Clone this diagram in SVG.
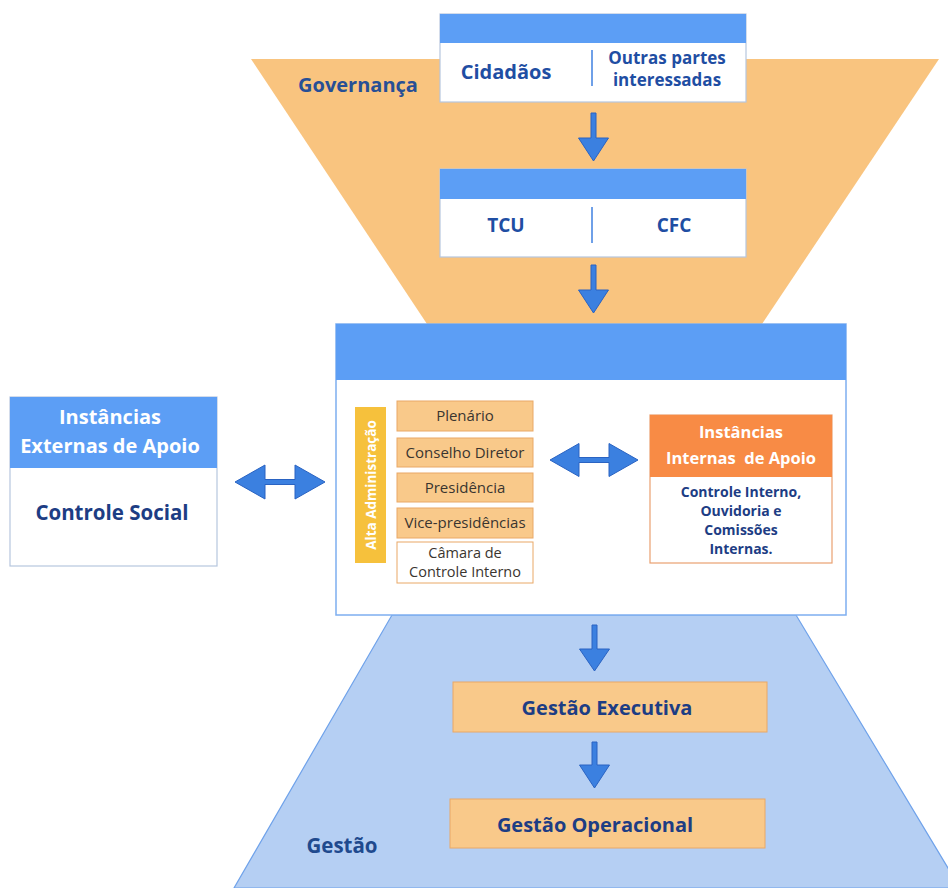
<svg xmlns="http://www.w3.org/2000/svg" width="948" height="888" viewBox="0 0 948 888">
<style>
.t{font-family:"Open Sans","Noto Sans","DejaVu Sans",sans-serif;}
.b{font-weight:700;}
.navy{fill:#1d3d84;}
.blue{fill:#1f4ea3;}
.white{fill:#ffffff;}
.item{fill:#f9c98a;stroke:#e9a866;stroke-width:1;}
.itxt{font-family:"Open Sans","Noto Sans","DejaVu Sans",sans-serif;font-size:15px;fill:#3a3530;text-anchor:middle;}
.card{fill:#ffffff;stroke:#b6c6de;stroke-width:1.2;}
.hdr{fill:#5c9ef5;}
.arrow{fill:#3b80e0;stroke:#2a63c2;stroke-width:1;}
.div{stroke:#6fa0e8;stroke-width:2;}
</style>
<rect x="0" y="0" width="948" height="888" fill="#ffffff"/>

<!-- background trapezoids -->
<g id="governanca-zone">
<polygon points="251,59 939,59 762,324 427,324" fill="#f9c47f"/>
<text class="t b" x="358" y="92" font-size="20" text-anchor="middle" fill="#274f96">Governança</text>
</g>
<g id="gestao-zone">
<polygon points="392,615 796,615 960,888 234,888" fill="#b5cff3" stroke="#6fa2ea" stroke-width="1.2"/>
<text class="t b" x="342" y="853" font-size="20.5" text-anchor="middle" fill="#1f4a8e">Gestão</text>
</g>

<!-- top box -->
<g id="node-cidadaos">
<rect class="card" x="440" y="14" width="306" height="88"/>
<rect class="hdr" x="440" y="14" width="306" height="29"/>
<line class="div" x1="592" y1="50" x2="592" y2="86"/>
<text class="t b blue" x="506" y="79" font-size="20" text-anchor="middle">Cidadãos</text>
<text class="t b blue" x="667" y="64" font-size="17" text-anchor="middle">Outras partes</text>
<text class="t b blue" x="667" y="86" font-size="17" text-anchor="middle">interessadas</text>
</g>

<g id="node-tcu-cfc">
<rect class="card" x="440" y="169" width="306" height="88"/>
<rect class="hdr" x="440" y="169" width="306" height="30"/>
<line class="div" x1="592" y1="207" x2="592" y2="243"/>
<text class="t b blue" x="506" y="232" font-size="19" text-anchor="middle">TCU</text>
<text class="t b blue" x="674" y="232" font-size="19" text-anchor="middle">CFC</text>
</g>

<!-- middle box -->
<g id="node-central">
<rect x="336" y="324" width="510" height="291" fill="#ffffff" stroke="#7eaef0" stroke-width="1.5"/>
<rect class="hdr" x="336" y="324" width="510" height="56"/>
</g>

<g id="node-alta-administracao">
<rect x="355" y="407" width="31" height="156" fill="#f6c13c"/>
<text class="t b" x="0" y="0" font-size="13.5" fill="#ffffff" text-anchor="middle" transform="translate(375.5,485) rotate(-90)">Alta Administração</text>
</g>

<g id="node-plenario">
<rect class="item" x="397" y="401" width="136" height="30"/>
<text class="itxt" x="465" y="421">Plenário</text>
</g>
<g id="node-conselho">
<rect class="item" x="397" y="438" width="136" height="29"/>
<text class="itxt" x="465" y="458">Conselho Diretor</text>
</g>
<g id="node-presidencia">
<rect class="item" x="397" y="473" width="136" height="29"/>
<text class="itxt" x="465" y="493">Presidência</text>
</g>
<g id="node-vice">
<rect class="item" x="397" y="508" width="136" height="30"/>
<text class="itxt" x="465" y="528">Vice-presidências</text>
</g>
<g id="node-camara">
<rect x="397" y="542" width="136" height="41" fill="#ffffff" stroke="#e9a866" stroke-width="1"/>
<text class="itxt" x="465" y="558" style="font-size:14.5px">Câmara de</text>
<text class="itxt" x="465" y="577" style="font-size:14.5px">Controle Interno</text>
</g>

<g id="node-internas">
<rect x="650" y="415" width="182" height="148" fill="#ffffff" stroke="#e9a070" stroke-width="1.2"/>
<rect x="650" y="415" width="182" height="62" fill="#f88b45"/>
<text class="t b white" x="741" y="438" font-size="16.5" text-anchor="middle">Instâncias</text>
<text class="t b white" x="741" y="464" font-size="16.5" text-anchor="middle" xml:space="preserve">Internas  de Apoio</text>
<text class="t b navy" x="741" y="497" font-size="14" text-anchor="middle">Controle Interno,</text>
<text class="t b navy" x="741" y="516" font-size="14" text-anchor="middle">Ouvidoria e</text>
<text class="t b navy" x="741" y="535" font-size="14" text-anchor="middle">Comissões</text>
<text class="t b navy" x="741" y="554" font-size="14" text-anchor="middle">Internas.</text>
</g>

<g id="node-externas">
<rect class="card" x="10" y="397" width="207" height="169" stroke="#8fb6ee"/>
<rect class="hdr" x="10" y="397" width="207" height="71"/>
<text class="t b white" x="110" y="424" font-size="20" text-anchor="middle">Instâncias</text>
<text class="t b white" x="110" y="453" font-size="20" text-anchor="middle">Externas de Apoio</text>
<text class="t b navy" x="112" y="520" font-size="20.5" text-anchor="middle">Controle Social</text>
</g>

<g id="node-gestao-executiva">
<rect class="item" x="453" y="682" width="314" height="50"/>
<text class="t b navy" x="607" y="715" font-size="20" text-anchor="middle">Gestão Executiva</text>
</g>
<g id="node-gestao-operacional">
<rect class="item" x="450" y="799" width="315" height="49"/>
<text class="t b navy" x="595" y="832" font-size="20" text-anchor="middle">Gestão Operacional</text>
</g>

<!-- connectors -->
<g id="connectors">
<path class="arrow" d="M591,113 L596,113 L596,138 L608.5,138 L593.5,161 L578.5,138 L591,138 Z"/>
<path class="arrow" d="M591,265 L596,265 L596,290 L608.5,290 L593.5,313 L578.5,290 L591,290 Z"/>
<path class="arrow" d="M592,625 L597,625 L597,649 L609.5,649 L594.5,671 L579.5,649 L592,649 Z"/>
<path class="arrow" d="M592,742 L597,742 L597,765 L609.5,765 L594.5,788 L579.5,765 L592,765 Z"/>
<path class="arrow" d="M235,482 L265,465 L265,479.5 L295,479.5 L295,465 L325,482 L295,499 L295,484.5 L265,484.5 L265,499 Z"/>
<path class="arrow" d="M550,460 L579,443.5 L579,457.5 L609,457.5 L609,443.5 L638,460 L609,476.5 L609,462.5 L579,462.5 L579,476.5 Z"/>
</g>
</svg>
